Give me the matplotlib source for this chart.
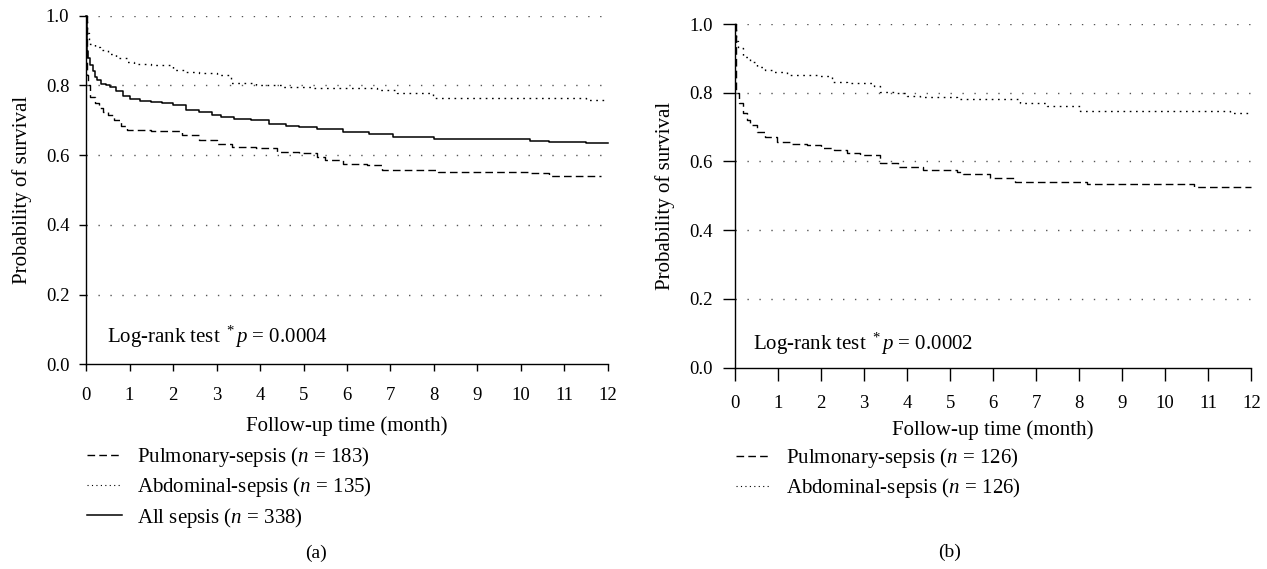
import matplotlib
matplotlib.use("Agg")
import matplotlib.pyplot as plt
from matplotlib.lines import Line2D

plt.rcParams['font.family'] = ['Liberation Serif', 'DejaVu Serif']
plt.rcParams['mathtext.fontset'] = 'custom'
plt.rcParams['mathtext.rm'] = 'Liberation Serif'
plt.rcParams['mathtext.it'] = 'Liberation Serif:italic'

# ---------------- data ----------------
# Panel (a)
a_pulm_t = [0, 0.02, 0.05, 0.1, 0.2, 0.3, 0.4, 0.5, 0.65, 0.8, 0.95, 1.5, 2.2, 2.6, 3.0,
            3.35, 3.9, 4.4, 4.9, 5.3, 5.5, 5.9, 6.45, 6.8, 8.1, 10.2, 10.65, 11.85]
a_pulm_s = [1.0, 0.83, 0.80, 0.768, 0.75, 0.735, 0.725, 0.715, 0.70, 0.685, 0.672, 0.668, 0.658,
            0.643, 0.632, 0.624, 0.62, 0.61, 0.605, 0.596, 0.586, 0.575, 0.572, 0.557, 0.552,
            0.548, 0.541, 0.541]

a_abd_t = [0, 0.02, 0.06, 0.1, 0.2, 0.32, 0.5, 0.7, 0.94, 1.1, 1.5, 2.0, 2.25, 2.6, 3.0, 3.33,
           3.9, 4.5, 5.2, 6.68, 7.14, 7.98, 11.5, 11.95]
a_abd_s = [1.0, 0.95, 0.93, 0.92, 0.91, 0.902, 0.89, 0.878, 0.868, 0.862, 0.858, 0.845, 0.839,
           0.835, 0.83, 0.806, 0.80, 0.796, 0.792, 0.787, 0.779, 0.765, 0.758, 0.758]

a_all_t = [0, 0.02, 0.05, 0.1, 0.15, 0.2, 0.25, 0.35, 0.45, 0.55, 0.7, 0.85, 1.0, 1.25, 1.5,
           1.75, 2.0, 2.3, 2.6, 2.9, 3.1, 3.4, 3.8, 4.2, 4.6, 4.9, 5.3, 5.9, 6.5, 7.05, 8.0,
           10.2, 10.65, 11.5, 12.0]
a_all_s = [1.0, 0.90, 0.88, 0.86, 0.84, 0.825, 0.815, 0.805, 0.80, 0.795, 0.785, 0.77, 0.76,
           0.755, 0.753, 0.75, 0.745, 0.73, 0.725, 0.715, 0.71, 0.705, 0.70, 0.69, 0.685, 0.682,
           0.675, 0.667, 0.661, 0.653, 0.645, 0.641, 0.639, 0.636, 0.636]

# Panel (b)
b_pulm_t = [0, 0.03, 0.1, 0.19, 0.27, 0.35, 0.5, 0.7, 0.97, 1.3, 1.67, 2.0, 2.29, 2.6, 2.91,
            3.37, 3.8, 4.38, 5.16, 5.31, 5.93, 6.51, 8.18, 10.66, 12.0]
b_pulm_s = [1.0, 0.80, 0.77, 0.74, 0.72, 0.706, 0.686, 0.67, 0.657, 0.652, 0.648, 0.64, 0.633,
            0.625, 0.619, 0.594, 0.585, 0.575, 0.570, 0.563, 0.551, 0.541, 0.533, 0.525, 0.525]

b_abd_t = [0, 0.03, 0.07, 0.19, 0.35, 0.5, 0.7, 0.89, 1.2, 1.98, 2.25, 2.6, 3.22, 3.37, 3.7,
           4.0, 4.3, 5.16, 6.63, 7.25, 8.02, 11.51, 11.93]
b_abd_s = [1.0, 0.95, 0.929, 0.905, 0.89, 0.876, 0.866, 0.861, 0.852, 0.848, 0.832, 0.828,
           0.82, 0.803, 0.798, 0.79, 0.788, 0.781, 0.771, 0.761, 0.748, 0.74, 0.74]

x_ticks = list(range(0, 13))
y_ticks = [0.0, 0.2, 0.4, 0.6, 0.8, 1.0]
x_label = "Follow-up time (month)"
y_label = "Probability of survival"
a_labels = ["Pulmonary-sepsis ($n$ = 183)", "Abdominal-sepsis ($n$ = 135)", "All sepsis ($n$ = 338)"]
b_labels = ["Pulmonary-sepsis ($n$ = 126)", "Abdominal-sepsis ($n$ = 126)"]
a_pval = "Log-rank test $^*$$p$ = 0.0004"
b_pval = "Log-rank test $^*$$p$ = 0.0002"

# ---------------- styles ----------------
DASH = (0, (5.5, 3.0))
DOT = (0, (1.2, 3.3))
TICK_FS = 13.5
TEXT_FS = 15

fig = plt.figure(figsize=(12.67, 5.69), dpi=100)
ax_a = fig.add_axes([0.06788, 0.35975, 0.41199, 0.61266])
ax_b = fig.add_axes([0.58011, 0.35413, 0.40750, 0.60369])


def style_axes(ax, ticklen, xpad, xlabelpad):
    ax.set_xlim(0, 12)
    ax.set_ylim(0, 1)
    for s in ("top", "right"):
        ax.spines[s].set_visible(False)
    for s in ("left", "bottom"):
        ax.spines[s].set_linewidth(1.0)
    ax.set_xticks(x_ticks)
    ax.set_yticks(y_ticks)
    ax.set_yticklabels([f"{v:.1f}" for v in y_ticks])
    ax.tick_params(direction="out", length=ticklen, width=1.0, labelsize=TICK_FS)
    ax.tick_params(axis="x", pad=xpad)
    ax.tick_params(axis="y", pad=7)
    for y in y_ticks[1:]:
        ax.axhline(y, color="#555555", lw=1.0, linestyle=(0, (1, 7.6)), zorder=0)
    ax.set_xlabel(x_label, fontsize=TEXT_FS, labelpad=xlabelpad)
    ax.set_ylabel(y_label, fontsize=TEXT_FS, labelpad=10)


style_axes(ax_a, 5, 11, 9)
style_axes(ax_b, 9, 10.5, 6)

ax_a.step(a_pulm_t, a_pulm_s, where="post", color="black", lw=1.0, linestyle=DASH, clip_on=False)
ax_a.step(a_abd_t, a_abd_s, where="post", color="black", lw=1.0, linestyle=DOT, clip_on=False)
ax_a.step(a_all_t, a_all_s, where="post", color="black", lw=1.1, linestyle="-", clip_on=False)

ax_b.step(b_pulm_t, b_pulm_s, where="post", color="black", lw=1.0, linestyle=DASH, clip_on=False)
ax_b.step(b_abd_t, b_abd_s, where="post", color="black", lw=1.0, linestyle=DOT, clip_on=False)

ax_a.text(0.48, 0.079, a_pval, fontsize=TEXT_FS, ha="left", va="center")
ax_b.text(0.42, 0.07, b_pval, fontsize=TEXT_FS, ha="left", va="center")

# legends
a_handles = [Line2D([], [], color="black", lw=1.0, linestyle=DASH),
             Line2D([], [], color="black", lw=0.8, linestyle=(0, (1, 3))),
             Line2D([], [], color="black", lw=1.1, linestyle="-")]
b_handles = a_handles[:2]
leg_a = fig.legend(a_handles, a_labels, loc="upper left", bbox_to_anchor=(87 / 1267, 1 - 445 / 569),
                   frameon=False, fontsize=TEXT_FS, handlelength=1.7, handletextpad=0.7,
                   labelspacing=0.3, borderpad=0, borderaxespad=0)
leg_b = fig.legend(b_handles, b_labels, loc="upper left", bbox_to_anchor=(736 / 1267, 1 - 446 / 569),
                   frameon=False, fontsize=TEXT_FS, handlelength=1.7, handletextpad=0.7,
                   labelspacing=0.3, borderpad=0, borderaxespad=0)

fig.text(316 / 1267, 1 - 553 / 569, "(a)", fontsize=14, ha="center", va="center")
fig.text(950 / 1267, 1 - 552 / 569, "(b)", fontsize=14, ha="center", va="center")

fig.savefig("out.png", dpi=100)
